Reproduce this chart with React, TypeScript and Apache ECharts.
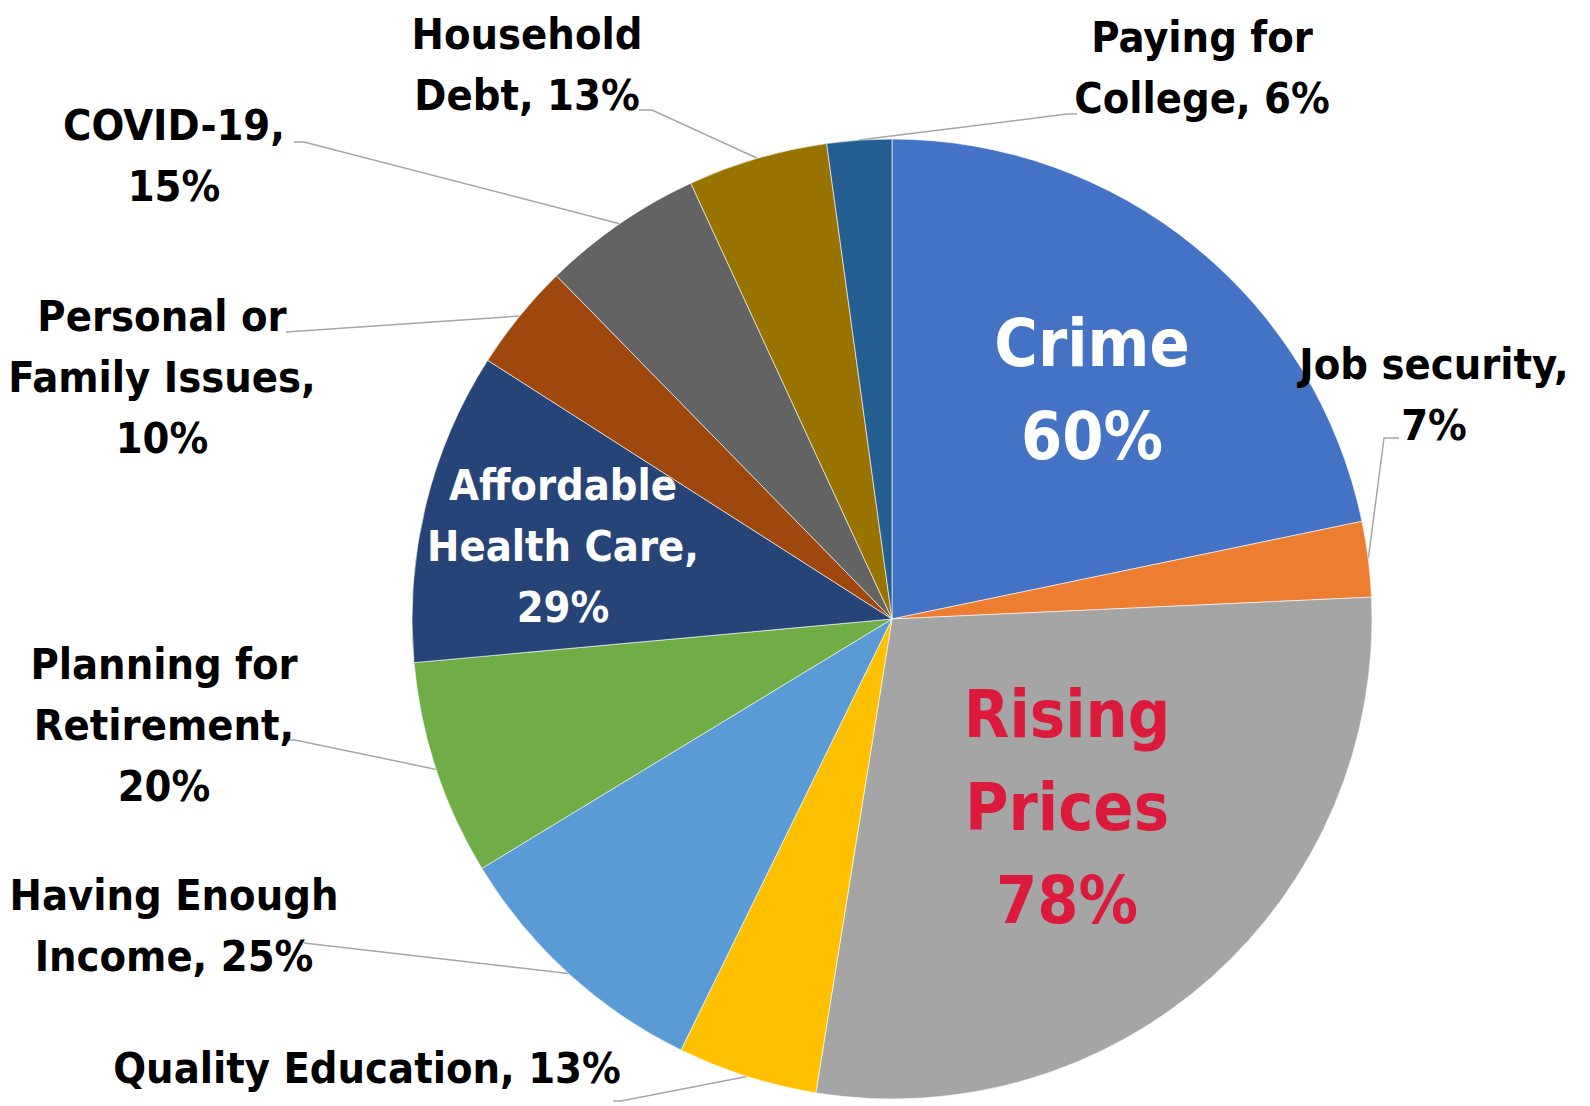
import React, { useEffect, useRef } from "react";
import * as echarts from "echarts";

const categories = [
  "Crime",
  "Job security",
  "Rising Prices",
  "Quality Education",
  "Having Enough Income",
  "Planning for Retirement",
  "Affordable Health Care",
  "Personal or Family Issues",
  "COVID-19",
  "Household Debt",
  "Paying for College",
];
const values = [60, 7, 78, 13, 25, 20, 29, 10, 15, 13, 6];
const sliceColors = [
  "#4472C4",
  "#ED7D31",
  "#A5A5A5",
  "#FFC000",
  "#5B9BD5",
  "#70AD47",
  "#264478",
  "#9E480E",
  "#636363",
  "#997300",
  "#255E91",
];
// label text templates ({v} is replaced by the value)
const labelTemplates = [
  "Crime\n{v}%",
  "Job security,\n{v}%",
  "Rising\nPrices\n{v}%",
  "Quality Education, {v}%",
  "Having Enough\nIncome, {v}%",
  "Planning for\nRetirement,\n{v}%",
  "Affordable\nHealth Care,\n{v}%",
  "Personal or\nFamily Issues,\n{v}%",
  "COVID-19,\n{v}%",
  "Household\nDebt, {v}%",
  "Paying for\nCollege, {v}%",
];
// label kinds: "big" inside, "in" inside, "out" outside with leader
const labelKinds = ["big", "out", "bigRed", "out", "out", "out", "in", "out", "out", "out", "out"];

// layout: label centres and leader-line ends (offset from label centre, elbow dx)
const labelCenters: number[][] = [
  [1092, 390],
  [1434, 394],
  [1067, 807],
  [367, 1068],
  [174, 925],
  [164, 725],
  [563, 546],
  [162, 377],
  [174, 155],
  [527, 64],
  [1202, 67],
];
const leaderEnds: (number[] | null)[] = [
  null,
  [-35, 44, -15],
  null,
  [246, 33, 8],
  [130, 18, 0],
  [123, 15, 8],
  null,
  [124, -45, 0],
  [120, -13, 10],
  [112, 46, 13],
  [-125, 47, -10],
];

const CX = 892;
const CY = 619;
const R = 480;
const FONT = '"DejaVu Sans Condensed", "Liberation Sans Narrow", "DejaVu Sans", sans-serif';

export default function App() {
  const ref = useRef<HTMLDivElement>(null);
  useEffect(() => {
    document.body.style.margin = "0";
    const chart = echarts.init(ref.current!, undefined, { renderer: "svg" });
    const total = values.reduce((a, b) => a + b, 0);
    const data = categories.map((name, i) => {
      const kind = labelKinds[i];
      const isOut = kind === "out";
      const isBig = kind === "big" || kind === "bigRed";
      return {
        name,
        value: values[i],
        itemStyle: { color: sliceColors[i] },
        label: {
          show: true,
          position: isOut ? "outside" : "inside",
          formatter: labelTemplates[i].replace("{v}", String(values[i])),
          color: kind === "bigRed" ? "#DC1A3C" : kind === "out" ? "#000000" : "#FFFFFF",
          fontFamily: FONT,
          fontWeight: "bold",
          fontSize: isBig ? 66 : 43,
          lineHeight: isBig ? 93 : 61,
          align: "center",
        },
        labelLine: { show: isOut, lineStyle: { color: "#A6A6A6", width: 1.5 } },
      };
    });

    chart.setOption({
      animation: false,
      series: [
        {
          type: "pie",
          center: [CX, CY],
          radius: [0, R],
          startAngle: 90,
          clockwise: true,
          avoidLabelOverlap: false,
          itemStyle: { borderColor: "#FFFFFF", borderWidth: 0.6 },
          emphasis: { disabled: true },
          data,
          labelLayout: (params: any) => {
            const i = params.dataIndex;
            const c = labelCenters[i];
            const res: any = { x: c[0], y: c[1], align: "center", verticalAlign: "middle" };
            const le = leaderEnds[i];
            if (le) {
              // arc point at mid-angle
              let before = 0;
              for (let k = 0; k < i; k++) before += values[k];
              const mid = ((before + values[i] / 2) / total) * 360;
              const ang = ((90 - mid) * Math.PI) / 180;
              const p0 =
                params.labelLinePoints && params.labelLinePoints[0]
                  ? params.labelLinePoints[0]
                  : [CX + R * Math.cos(ang), CY - R * Math.sin(ang)];
              const end = [c[0] + le[0], c[1] + le[1]];
              const elbow = [end[0] + le[2], end[1]];
              res.labelLinePoints = [p0, elbow, end];
            }
            return res;
          },
        },
      ],
    });
    return () => chart.dispose();
  }, []);
  return <div ref={ref} style={{ width: 1590, height: 1106 }} />;
}
